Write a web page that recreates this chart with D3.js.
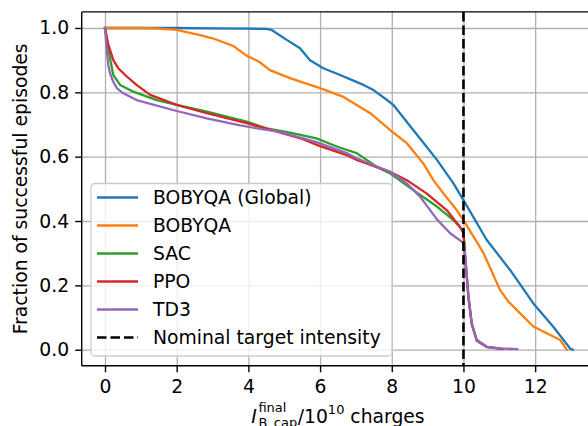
<!DOCTYPE html>
<html>
<head>
<meta charset="utf-8">
<script src="https://cdn.jsdelivr.net/npm/d3@7"></script>
<style>
  body { margin: 0; background: #fff; }
  svg { display: block; font-family: "DejaVu Sans", sans-serif; }
</style>
</head>
<body>
<div id="chart"></div>
<script>
// curves: x in 1e10 charges, y = fraction of successful episodes
const globalX = [0, 1, 2, 3, 4, 4.5, 4.65, 5.07, 5.44, 5.72, 6.09, 6.56, 7.21, 7.49, 7.86, 8.05, 8.6, 9.26, 9.72, 10.0, 10.65, 11.3, 11.95, 12.5, 12.98, 13.05];
const globalY = [1.0, 1.0, 1.0, 0.999, 0.998, 0.997, 0.994, 0.963, 0.937, 0.90, 0.875, 0.854, 0.823, 0.807, 0.777, 0.76, 0.683, 0.59, 0.517, 0.465, 0.341, 0.248, 0.144, 0.072, 0.003, 0];

const bobyqaX = [0, 1.0, 1.5, 2.0, 2.65, 3.0, 3.58, 3.95, 4.3, 4.6, 5.16, 5.72, 6.0, 6.65, 6.79, 7.4, 7.95, 8.42, 8.88, 9.16, 9.44, 9.81, 10.0, 10.56, 11.02, 11.25, 11.49, 11.95, 12.42, 12.7, 12.88];
const bobyqaY = [1.0, 1.0, 0.998, 0.994, 0.978, 0.968, 0.944, 0.914, 0.895, 0.869, 0.844, 0.823, 0.813, 0.786, 0.776, 0.735, 0.683, 0.642, 0.579, 0.527, 0.486, 0.434, 0.403, 0.30, 0.186, 0.15, 0.123, 0.072, 0.046, 0.03, 0.0];

const sacX = [0, 0.05, 0.14, 0.23, 0.42, 0.79, 1.44, 2.0, 2.84, 3.95, 4.51, 5.16, 5.9, 6.5, 7.02, 7.58, 7.95, 8.6, 9.26, 9.72, 9.95, 10.0, 10.05, 10.14, 10.23, 10.37, 10.65, 11.0];
const sacY = [1.0, 0.96, 0.906, 0.854, 0.823, 0.802, 0.776, 0.761, 0.74, 0.709, 0.688, 0.675, 0.657, 0.63, 0.611, 0.569, 0.548, 0.496, 0.445, 0.403, 0.375, 0.37, 0.289, 0.165, 0.082, 0.03, 0.009, 0.004];

const ppoX = [0, 0.09, 0.23, 0.37, 0.6, 0.88, 1.26, 2.0, 2.84, 3.95, 4.7, 5.5, 6.0, 6.74, 7.02, 7.95, 8.42, 8.97, 9.53, 9.9, 10.0, 10.05, 10.14, 10.23, 10.37, 10.65, 11.1];
const ppoY = [1.0, 0.95, 0.9, 0.875, 0.85, 0.823, 0.792, 0.761, 0.735, 0.704, 0.681, 0.655, 0.633, 0.605, 0.59, 0.553, 0.527, 0.486, 0.434, 0.382, 0.362, 0.28, 0.16, 0.08, 0.028, 0.008, 0.002];

const td3X = [0, 0.05, 0.09, 0.14, 0.23, 0.33, 0.51, 0.88, 2.0, 2.84, 3.77, 4.51, 4.88, 5.9, 6.74, 7.02, 7.95, 8.42, 8.79, 9.26, 9.63, 9.95, 10.0, 10.05, 10.14, 10.23, 10.37, 10.65, 11.0, 11.5];
const td3Y = [1.0, 0.93, 0.885, 0.859, 0.833, 0.813, 0.797, 0.776, 0.742, 0.719, 0.697, 0.683, 0.677, 0.645, 0.611, 0.595, 0.553, 0.517, 0.476, 0.405, 0.362, 0.336, 0.331, 0.289, 0.165, 0.082, 0.03, 0.009, 0.004, 0.002];

const seriesNames = ["BOBYQA (Global)", "BOBYQA", "SAC", "PPO", "TD3"];
const seriesColors = ["#1f77b4", "#ff7f0e", "#2ca02c", "#d62728", "#9467bd"];
const targetX = 10;
const targetLabel = "Nominal target intensity";

const xTicks = [0, 2, 4, 6, 8, 10, 12];
const yTicks = [0, 0.2, 0.4, 0.6, 0.8, 1.0];

const W = 588, H = 426;
const fs = 18.75;

const svg = d3.select("#chart").append("svg")
    .attr("width", W)
    .attr("height", H);

// axes box (right spine falls outside the picture, like the original crop)
const axLeft = 81.7, axRight = 594.3, axTop = 11.9, axBottom = 365.8;
const x = d3.scaleLinear().domain([-0.65, 13.65]).range([axLeft, axRight]);
const y = d3.scaleLinear().domain([-0.05, 1.05]).range([axBottom, axTop]);

// grid
svg.append("g")
    .attr("transform", `translate(0,${axBottom})`)
    .call(d3.axisBottom(x).tickValues(xTicks).tickSize(-(axBottom - axTop)).tickFormat(""))
    .call(g => g.select(".domain").remove())
    .selectAll("line").attr("stroke", "#b0b0b0").attr("stroke-width", 1.3);
svg.append("g")
    .attr("transform", `translate(${axLeft},0)`)
    .call(d3.axisLeft(y).tickValues(yTicks).tickSize(-(axRight - axLeft)).tickFormat(""))
    .call(g => g.select(".domain").remove())
    .selectAll("line").attr("stroke", "#b0b0b0").attr("stroke-width", 1.3);

// curves
const allSeries = [
    [globalX, globalY], [bobyqaX, bobyqaY], [sacX, sacY], [ppoX, ppoY], [td3X, td3Y]
];
const line = d3.line().x(d => x(d[0])).y(d => y(d[1]));
allSeries.forEach((s, i) => {
    const pts = s[0].map((v, j) => [v, s[1][j]]);
    svg.append("path")
        .datum(pts)
        .attr("fill", "none")
        .attr("stroke", seriesColors[i])
        .attr("stroke-width", 2.3)
        .attr("stroke-linejoin", "round")
        .attr("stroke-linecap", "square")
        .attr("d", line);
});

// target line
svg.append("line")
    .attr("x1", x(targetX)).attr("x2", x(targetX))
    .attr("y1", axTop).attr("y2", axBottom)
    .attr("stroke", "#000")
    .attr("stroke-width", 2.6)
    .attr("stroke-dasharray", "9.5,4");

// spines
svg.append("line").attr("x1", axLeft).attr("x2", axLeft).attr("y1", axTop).attr("y2", axBottom)
    .attr("stroke", "#000").attr("stroke-width", 1.4);
svg.append("line").attr("x1", axLeft).attr("x2", axRight).attr("y1", axTop).attr("y2", axTop)
    .attr("stroke", "#000").attr("stroke-width", 1.4);
svg.append("line").attr("x1", axLeft).attr("x2", axRight).attr("y1", axBottom).attr("y2", axBottom)
    .attr("stroke", "#000").attr("stroke-width", 1.4);

// tick axes
const xAxis = svg.append("g")
    .attr("transform", `translate(0,${axBottom})`)
    .call(d3.axisBottom(x).tickValues(xTicks).tickSize(6.5).tickPadding(7).tickFormat(d3.format("d")));
const yAxis = svg.append("g")
    .attr("transform", `translate(${axLeft},0)`)
    .call(d3.axisLeft(y).tickValues(yTicks).tickSize(6.5).tickPadding(6).tickFormat(d3.format(".1f")));
[xAxis, yAxis].forEach(a => {
    a.select(".domain").remove();
    a.selectAll("line").attr("stroke", "#000").attr("stroke-width", 1.4);
    a.selectAll("text")
        .attr("fill", "#000")
        .style("font-size", fs + "px")
        .style("font-family", "DejaVu Sans");
});

// y label
svg.append("text")
    .attr("transform", `translate(27,${(axTop + axBottom) / 2}) rotate(-90)`)
    .attr("text-anchor", "middle")
    .style("font-size", fs + "px")
    .text("Fraction of successful episodes");

// x label built from pieces: I^final_B_cap / 10^10 charges
const xl = svg.append("g");
const base = 422.5;
let cx = 0;
const iT = xl.append("text").attr("x", cx).attr("y", base)
    .style("font-size", fs + "px").style("font-style", "italic").text("I");
cx += iT.node().getComputedTextLength() + 1.5;
const supT = xl.append("text").attr("x", cx).attr("y", base - 11)
    .style("font-size", "13px").text("final");
const subT = xl.append("text").attr("x", cx).attr("y", base + 4)
    .style("font-size", "13px").text("B_cap");
cx += Math.max(supT.node().getComputedTextLength(), subT.node().getComputedTextLength()) + 0.5;
const slT = xl.append("text").attr("x", cx).attr("y", base)
    .style("font-size", fs + "px").text("/10");
cx += slT.node().getComputedTextLength();
const expT = xl.append("text").attr("x", cx).attr("y", base - 9)
    .style("font-size", "13px").text("10");
cx += expT.node().getComputedTextLength();
const chT = xl.append("text").attr("x", cx).attr("y", base)
    .style("font-size", fs + "px").style("white-space", "pre").text(" charges");
cx += chT.node().getComputedTextLength();
xl.attr("transform", `translate(${(axLeft + axRight) / 2 - cx / 2},0)`);

// legend
const lg = svg.append("g");
lg.append("rect")
    .attr("x", 91).attr("y", 183.5)
    .attr("width", 301).attr("height", 172.5)
    .attr("rx", 4).attr("ry", 4)
    .attr("fill", "#fff").attr("fill-opacity", 0.8)
    .attr("stroke", "#cccccc").attr("stroke-width", 1.3);
const legendItems = seriesNames.map((n, i) => ({ name: n, color: seriesColors[i], dash: null }))
    .concat([{ name: targetLabel, color: "#000", dash: "9.5,4" }]);
legendItems.forEach((d, i) => {
    const cy = 197.5 + i * 28;
    lg.append("line")
        .attr("x1", 97).attr("x2", 138)
        .attr("y1", cy).attr("y2", cy)
        .attr("stroke", d.color)
        .attr("stroke-width", d.dash ? 2.6 : 2.3)
        .attr("stroke-dasharray", d.dash);
    lg.append("text")
        .attr("x", 153).attr("y", cy + 6.8)
        .style("font-size", fs + "px")
        .text(d.name);
});
</script>
</body>
</html>
